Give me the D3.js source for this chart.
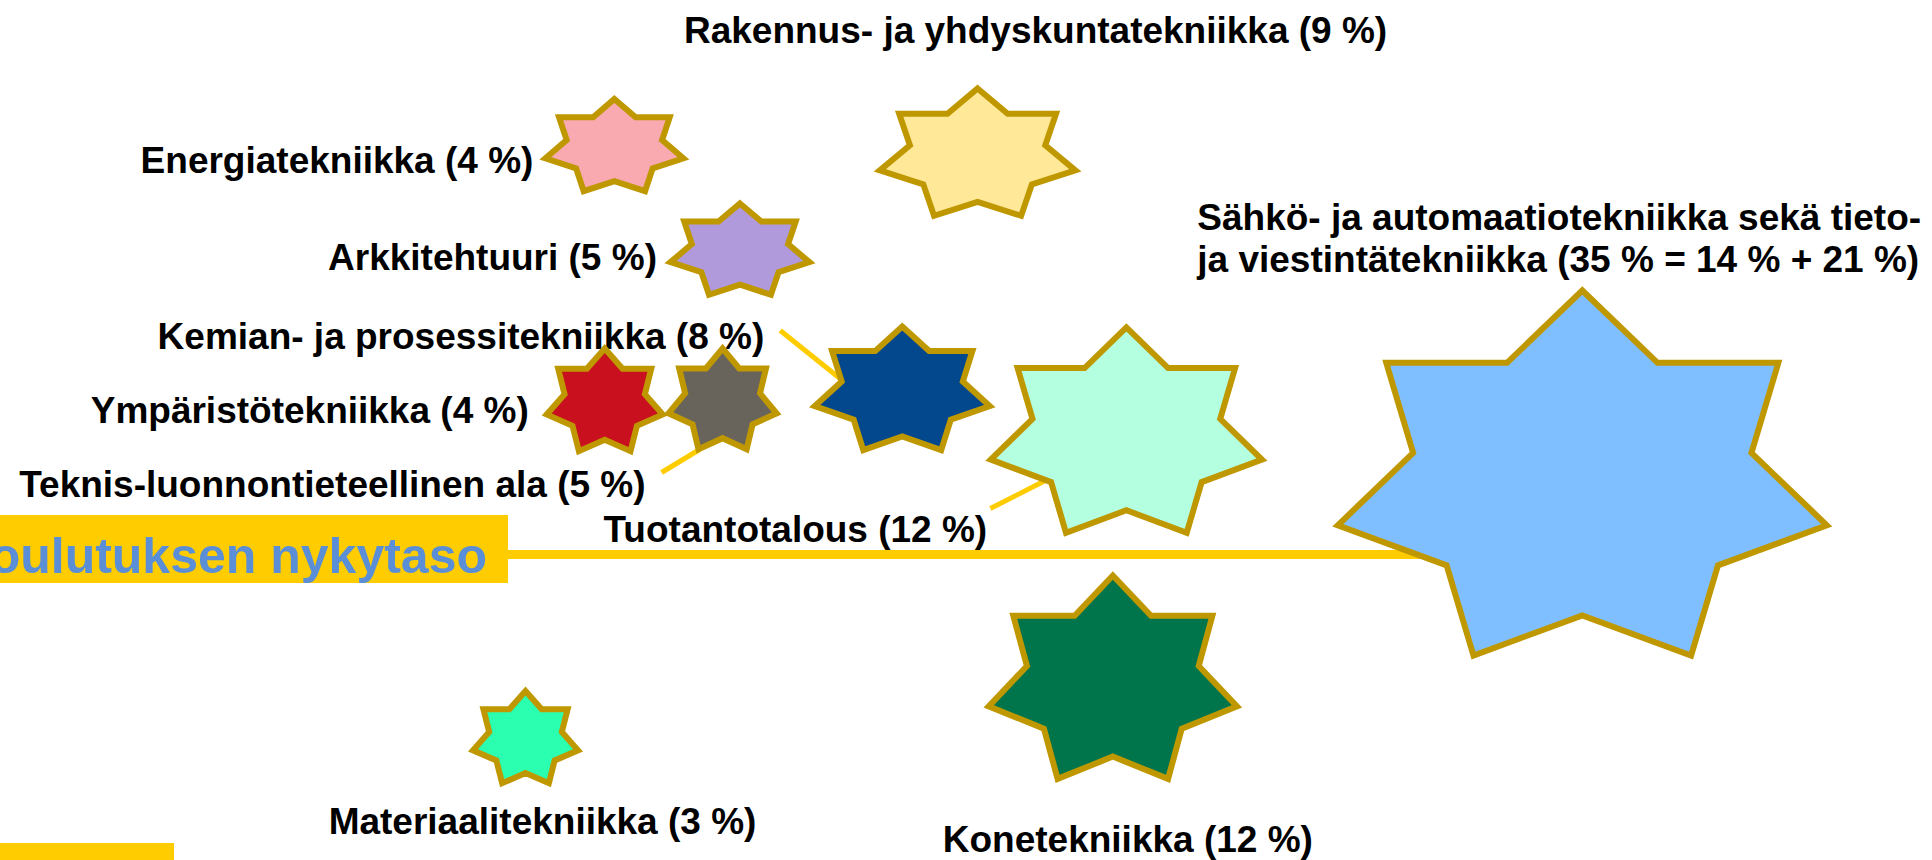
<!DOCTYPE html>
<html>
<head>
<meta charset="utf-8">
<script src="https://cdn.jsdelivr.net/npm/d3@7"></script>
<style>
  body { margin: 0; background: #fff; }
  svg { display: block; background: #fff; }
  .label { font-family: "Liberation Sans", Arial, sans-serif; font-weight: bold; font-size: 37px; fill: #000; }
  .levelText { font-family: "Liberation Sans", Arial, sans-serif; font-weight: bold; font-size: 50px; fill: #5a8fd8; }
  .star { stroke: #bf9800; stroke-width: 6; stroke-linejoin: miter; }
  .leader { stroke: #ffcc00; stroke-width: 5; }
</style>
</head>
<body>
<svg></svg>
<script>
// engineering fields and their share of students
var fields = [
  "Rakennus- ja yhdyskuntatekniikka",
  "Energiatekniikka",
  "Arkkitehtuuri",
  "Kemian- ja prosessitekniikka",
  "Ympäristötekniikka",
  "Teknis-luonnontieteellinen ala",
  "Tuotantotalous",
  "Konetekniikka",
  "Materiaalitekniikka",
  "Sähkö- ja automaatiotekniikka sekä tieto-\nja viestintätekniikka"
];
var shares = [9, 4, 5, 8, 4, 5, 12, 12, 3, 35];
var subShares = [null, null, null, null, null, null, null, null, null, [14, 21]];

// position on the (hidden) axes, y relative to the current level line
var xValues = [50.6, 31.8, 38.3, 46.7, 31.3, 37.4, 58.3, 57.6, 27.2, 81.9];
var yValues = [39.9, 40.7, 30.3, 16.3, 15.2, 15.3, 11.9, -12.8, -18.5, 7.2];

var levelValue = 0;
var levelText = "koulutuksen nykytaso";

// styling, kept apart from the data
var fills = ["#ffe999", "#f8aab0", "#b09adc", "#03478c", "#c8101e", "#69645b", "#b4ffe0", "#00744a", "#2bffb0", "#80bfff"];
var stretch = [[1.52, 1.015], [1.415, 0.97], [1.426, 0.96], [1.36, 0.985], [1.19, 1.08],
               [1.11, 1.06], [1.30, 1.01], [1.19, 1.0], [1.077, 0.97], [1.306, 1.0]];
var labelLayout = [
  {anchor: "middle", dx: 58, dy: -113},
  {anchor: "end", dx: -81, dy: 25},
  {anchor: "end", dx: -83, dy: 18},
  {anchor: "end", dx: -138, dy: -43},
  {anchor: "end", dx: -76, dy: 20},
  {anchor: "end", dx: -77, dy: 95},
  {anchor: "middle", dx: -331, dy: 106},
  {anchor: "middle", dx: 15, dy: 169},
  {anchor: "middle", dx: 17, dy: 94},
  {anchor: "start", dx: -385, dy: -253}
];
var leaders = [
  {i: 3, from: [-122, -61], to: [-61, -12]},
  {i: 5, from: [-61, 71], to: [-23, 48]},
  {i: 6, from: [-136, 73], to: [-79, 44]}
];

var width = 1932;
var height = 860;

var svg = d3.select("svg")
  .attr("width", width)
  .attr("height", height);

var x = d3.scaleLinear()
  .domain([0, 100])
  .range([0, width]);
var y = d3.scaleLinear()
  .domain([-30, 55])
  .range([854.5, 4.5]);
var radius = d3.scaleThreshold()
  .domain([6, 10, 20])
  .range([50, 66, 107, 192]);

var data = fields.map(function(f, i) {
  return {
    name: f,
    share: shares[i],
    sub: subShares[i],
    cx: x(xValues[i]),
    cy: y(yValues[i]),
    r: radius(shares[i]),
    sx: stretch[i][0],
    sy: stretch[i][1],
    fill: fills[i],
    layout: labelLayout[i]
  };
});

function labelText(d) {
  var pct = "(" + d.share + " %";
  if (d.sub) pct += " = " + d.sub.join(" % + ") + " %";
  return (d.name + " " + pct + ")").split("\n");
}

// 7-pointed star, inner radius so the shoulders are flat
var line = d3.line().curve(d3.curveLinearClosed);
function star(d) {
  var pts = d3.range(14).map(function(k) {
    var a = -Math.PI / 2 + k * Math.PI / 7;
    var rr = k % 2 ? d.r * 0.692 : d.r;
    return [d.cx + rr * Math.cos(a) * d.sx, d.cy + rr * Math.sin(a) * d.sy];
  });
  return line(pts);
}

// current level line with its label box
var levelY = y(levelValue);
svg.append("line")
  .attr("x1", 500)
  .attr("x2", x(78))
  .attr("y1", levelY)
  .attr("y2", levelY)
  .attr("stroke", "#ffcc00")
  .attr("stroke-width", 9);

svg.append("rect")
  .attr("x", 0)
  .attr("y", levelY - 39.5)
  .attr("width", 508)
  .attr("height", 68)
  .attr("fill", "#ffcc00");

svg.append("text")
  .attr("class", "levelText")
  .attr("x", 487)
  .attr("y", levelY + 18.5)
  .attr("text-anchor", "end")
  .text(levelText);

svg.append("rect")
  .attr("x", 0)
  .attr("y", 843)
  .attr("width", 174)
  .attr("height", 30)
  .attr("fill", "#ffcc00");

svg.selectAll("line.leader")
  .data(leaders)
  .enter()
  .append("line")
  .attr("class", "leader")
  .attr("x1", function(l) { return data[l.i].cx + l.from[0]; })
  .attr("y1", function(l) { return data[l.i].cy + l.from[1]; })
  .attr("x2", function(l) { return data[l.i].cx + l.to[0]; })
  .attr("y2", function(l) { return data[l.i].cy + l.to[1]; });

var labels = svg.selectAll("text.label")
  .data(data)
  .enter()
  .append("text")
  .attr("class", "label")
  .attr("text-anchor", function(d) { return d.layout.anchor; })
  .attr("x", function(d) { return d.cx + d.layout.dx; })
  .attr("y", function(d) { return d.cy + d.layout.dy; });

labels.selectAll("tspan")
  .data(function(d) {
    return labelText(d).map(function(t) { return {t: t, d: d}; });
  })
  .enter()
  .append("tspan")
  .attr("x", function(o) { return o.d.cx + o.d.layout.dx; })
  .attr("dy", function(o, j) { return j ? 42 : 0; })
  .text(function(o) { return o.t; });

svg.selectAll("path.star")
  .data(data)
  .enter()
  .append("path")
  .attr("class", "star")
  .attr("d", star)
  .attr("fill", function(d) { return d.fill; });
</script>
</body>
</html>
